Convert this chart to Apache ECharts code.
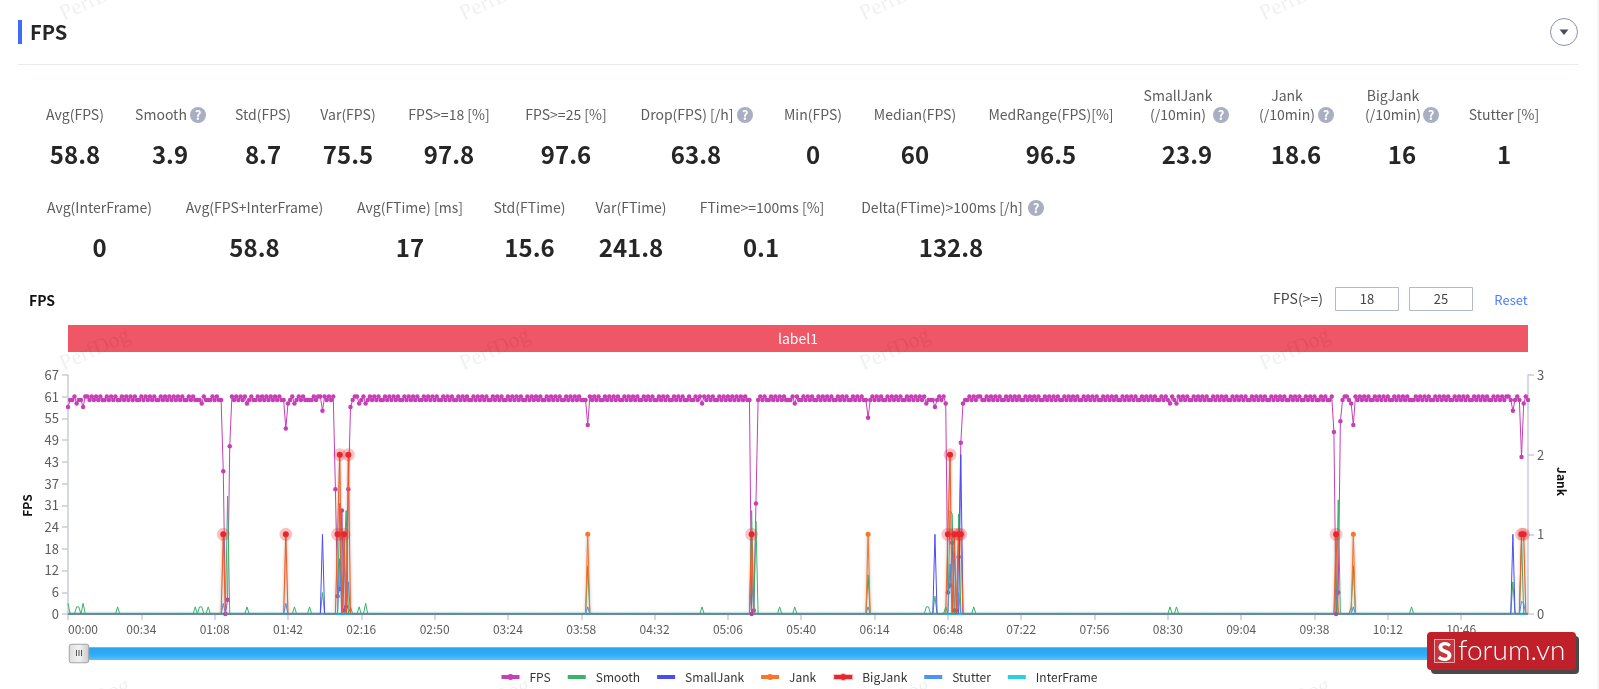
<!DOCTYPE html>
<html>
<head>
<meta charset="utf-8">
<title>FPS</title>
<script src="https://cdn.jsdelivr.net/npm/echarts@6/dist/echarts.min.js"></script>
<style>
  html, body { margin: 0; padding: 0; background: #fff; overflow: hidden; }
  #chart { width: 1599px; height: 689px; }
</style>
</head>
<body>
<div id="chart"></div>
<script>
// -- Chart values --
const fpsValues = [
  58,60,60,61,59,60,60,58,61,61,60,61,60,61,60,61,60,60,61,60,
  61,60,61,60,60,61,60,61,60,61,60,61,60,60,61,60,61,60,61,60,
  61,60,60,61,60,61,60,61,60,61,60,61,60,61,60,60,61,60,61,60,
  60,60,59,61,60,60,60,61,60,61,60,60,40,0,4,47,61,60,61,60,
  61,60,61,59,60,61,60,60,61,60,61,60,61,60,61,60,61,60,61,60,
  60,52,59,60,61,59,60,61,60,61,60,60,60,60,61,60,61,61,57,61,
  60,61,60,61,35,5,7,29,1,2,35,58,60,61,61,59,60,61,59,60,
  61,60,61,60,61,60,60,61,60,61,60,61,60,61,60,60,61,60,61,60,
  61,60,61,60,60,61,60,61,60,61,60,61,60,60,61,60,61,60,61,60,
  60,61,60,61,60,61,60,60,61,60,61,60,61,60,61,60,60,61,60,61,
  60,61,60,60,61,60,61,60,61,60,61,60,60,61,60,61,60,61,60,61,
  60,60,61,60,61,60,61,60,61,60,60,61,60,61,60,61,60,61,60,60,
  60,53,61,60,61,60,61,60,60,61,60,61,60,61,60,61,60,60,61,60,
  61,60,61,60,61,60,60,61,60,61,60,61,60,60,61,60,61,60,61,60,
  60,61,60,61,60,61,60,60,61,60,60,61,60,61,59,61,60,61,60,61,
  60,60,61,60,61,60,61,60,61,60,61,60,61,60,61,60,60,0,1,31,
  60,61,60,61,60,60,61,60,61,60,61,60,61,60,60,60,61,59,61,60,
  60,61,60,61,60,61,60,60,61,60,61,60,61,60,61,60,60,61,60,61,
  60,61,60,60,61,60,61,60,61,60,60,55,60,61,60,61,60,61,60,60,
  61,60,61,60,61,60,61,60,60,61,60,61,60,61,60,61,60,61,59,60,
  60,60,58,60,61,60,61,59,6,8,20,1,1,16,48,59,60,60,61,60,
  61,60,61,61,60,60,61,60,61,60,61,60,61,60,60,61,60,61,60,61,
  60,61,60,60,61,60,61,60,61,60,61,60,60,61,60,61,60,61,60,61,
  60,60,61,60,61,60,61,60,61,60,60,61,60,61,60,61,60,61,60,60,
  61,60,61,60,61,60,61,60,60,61,60,61,60,61,60,61,60,60,61,60,
  61,60,61,60,61,60,60,61,60,61,60,59,61,60,59,61,60,61,60,61,
  60,60,61,60,61,60,61,60,61,60,60,61,60,61,60,61,60,61,60,60,
  61,60,61,60,61,60,61,60,60,61,60,61,60,61,60,61,60,60,61,60,
  61,60,61,60,61,60,60,61,60,61,60,61,60,60,61,60,61,60,61,60,
  60,61,60,61,60,60,61,51,0,6,54,60,61,61,60,59,53,61,60,61,
  60,61,60,61,60,60,61,60,61,60,61,60,61,60,60,61,60,61,60,61,
  60,61,60,60,60,61,60,61,60,61,60,61,60,60,61,60,61,60,61,60,
  61,60,60,61,60,61,60,61,60,61,60,60,61,60,61,60,61,60,61,60,
  60,61,60,61,60,61,60,61,61,60,57,60,61,60,44,59,61,60
];

// The other series are zero except at these [second, value] points
const smoothPoints = [[0,3],[4,2],[5,2],[7,3],[23,2],[59,2],[61,2],[62,2],[65,2],[74,33],[83,2],[105,2],[112,2],[118,6],[126,31],[128,16],[129,29],[131,2],[135,2],[138,3],[241,13.5],[294,2],[317,29],[319,26],[330,2],[337,2],[371,11],[398,2],[399,2],[402,5],[407,2],[409,29],[410,28],[413,28],[420,2],[511,2],[514,2],[589,32],[595,2],[596,13.5],[623,2],[670,9],[674,21]];
const smallJankPoints = [[118,1],[402,1],[414,2],[670,1]];
const jankPoints = [[72,1],[101,1],[125,1],[126,2],[128,1],[130,2],[241,1],[317,1],[371,1],[408,1],[409,2],[411,1],[413,1],[414,1],[588,1],[596,1],[674,1],[675,1]];
const bigJankPoints = [[72,1],[101,1],[125,1],[126,2],[128,1],[130,2],[317,1],[408,1],[409,2],[411,1],[413,1],[414,1],[588,1],[674,1],[675,1]];
const stutterPoints = [[72,3],[101,3],[126,15.5],[128,16],[130,9],[241,2],[317,10.5],[371,2],[409,14],[411,17.5],[413,6],[588,7],[596,2],[674,3.5],[675,3]];
const interFramePoints = [];

const yLeftLabels = [0,6,12,18,24,31,37,43,49,55,61,67];

// Stats block
const statRow1Labels = ['Avg(FPS)','Smooth','Std(FPS)','Var(FPS)','FPS>=18 [%]','FPS>=25 [%]','Drop(FPS) [/h]','Min(FPS)','Median(FPS)','MedRange(FPS)[%]','SmallJank\n(/10min)','Jank\n(/10min)','BigJank\n(/10min)','Stutter [%]'];
const statRow1Values = ['58.8','3.9','8.7','75.5','97.8','97.6','63.8','0','60','96.5','23.9','18.6','16','1'];
const statRow2Labels = ['Avg(InterFrame)','Avg(FPS+InterFrame)','Avg(FTime) [ms]','Std(FTime)','Var(FTime)','FTime>=100ms [%]','Delta(FTime)>100ms [/h]'];
const statRow2Values = ['0','58.8','17','15.6','241.8','0.1','132.8'];

const statRow1LabelX = [75,161,263,348,449,566,687,813,915,1051,1178,1287,1393,1504];
const statRow1ValueX = [75,170,263,348,449,566,696,813,915,1051,1187,1296,1402,1504];
const statRow1IconX = [null,198,null,null,null,null,745,null,null,null,1221,1326,1431,null];
const statRow2LabelX = [99.5,254.5,410,529.5,631,762,942];
const statRow2ValueX = [99.5,254.5,410,529.5,631,761,951];
const statRow2IconX = [null,null,null,null,null,null,1036];

const watermarkX = [95,495,895,1295];
const watermarkY = [0,350,700];

const COLORS = {
  fps: '#c63fb6',
  smooth: '#38b368',
  smallJank: '#4b4cf2',
  jank: '#f9752b',
  bigJank: '#e8262c',
  stutter: '#4b93f7',
  interFrame: '#29d0e2',
  axis: '#c9cdd8',
  text: '#5c5c5c',
  dark: '#262626'
};
const FONT = '"Noto Sans CJK SC", "Noto Sans", sans-serif';
const POINT_COUNT = fpsValues.length;

const times = fpsValues.map((_, i) =>
  String(Math.floor(i / 60)).padStart(2, '0') + ':' + String(i % 60).padStart(2, '0'));

function spread(points) {
  const out = new Array(POINT_COUNT).fill(0);
  points.forEach(p => { out[p[0]] = p[1]; });
  return out;
}

// Jank style series only mark the non zero seconds
function markNonZero(values, hiddenAt) {
  return values.map((v, i) =>
    (v > 0 && !(hiddenAt && hiddenAt[i] > 0) ? v : { value: v, symbol: 'none' }));
}

function text(x, y, str, font, fill, align) {
  return {
    type: 'text', x, y, silent: true, z: 10,
    style: { text: str, font, fill, textAlign: align || 'center', textVerticalAlign: 'middle' }
  };
}

function helpIcon(x, y) {
  return [
    { type: 'circle', silent: true, z: 10, shape: { cx: x, cy: y, r: 8 }, style: { fill: '#a9aec2' } },
    text(x, y, '?', 'bold 13px ' + FONT, '#fff')
  ];
}

function statRow(labels, values, labelX, valueX, iconX, labelY, valueY) {
  const out = [];
  labels.forEach((label, i) => {
    const lines = label.split('\n');
    lines.forEach((line, j) => {
      out.push(text(labelX[i], labelY - (lines.length - 1 - j) * 19, line, '14px ' + FONT, COLORS.text));
    });
    out.push(text(valueX[i], valueY, values[i], 'bold 24px ' + FONT, COLORS.dark));
    if (iconX[i] !== null) out.push(...helpIcon(iconX[i], labelY));
  });
  return out;
}

function inputBox(x, str) {
  return [
    { type: 'rect', silent: true, shape: { x: x + 0.5, y: 287.5, width: 63, height: 23 }, style: { fill: '#fff', stroke: '#b5b8c8', lineWidth: 1 } },
    text(x + 32, 299, str, '13px ' + FONT, '#444')
  ];
}

const watermarks = [];
watermarkY.forEach(y => watermarkX.forEach(x => {
  watermarks.push({
    type: 'text', x, y, rotation: 0.42, silent: true, z: 40, zlevel: 1,
    style: { text: 'PerfDog', font: '22px "Liberation Serif", serif', fill: 'rgba(0,0,0,0.06)', textAlign: 'center', textVerticalAlign: 'middle' }
  });
}));

const pageGraphics = [
  ...watermarks,
  // Section header
  { type: 'rect', silent: true, shape: { x: 18, y: 20, width: 4, height: 24 }, style: { fill: '#3f6bff' } },
  text(30, 32, 'FPS', 'bold 20px ' + FONT, COLORS.dark, 'left'),
  { type: 'rect', silent: true, shape: { x: 18, y: 64, width: 1560, height: 1 }, style: { fill: '#e6e8f2' } },
  { type: 'rect', silent: true, shape: { x: 1597.5, y: 0, width: 1, height: 689 }, style: { fill: '#ececf0' } },
  { type: 'circle', silent: true, shape: { cx: 1564, cy: 32, r: 13.5 }, style: { fill: '#fff', stroke: '#8d91aa', lineWidth: 1 } },
  { type: 'polygon', silent: true, shape: { points: [[1559.5, 29.5], [1568.5, 29.5], [1564, 35]] }, style: { fill: '#4a4d5e' } },
  ...statRow(statRow1Labels, statRow1Values, statRow1LabelX, statRow1ValueX, statRow1IconX, 115, 155),
  ...statRow(statRow2Labels, statRow2Values, statRow2LabelX, statRow2ValueX, statRow2IconX, 208, 248),
  // Chart toolbar
  text(29, 301, 'FPS', 'bold 14px ' + FONT, '#111', 'left'),
  text(1298, 299, 'FPS(>=)', '14px ' + FONT, '#444'),
  ...inputBox(1335, '18'),
  ...inputBox(1409, '25'),
  text(1511, 300, 'Reset', '13px ' + FONT, '#4a7dff'),
  // Label band over the plot
  { type: 'rect', silent: true, shape: { x: 68, y: 325, width: 1460, height: 27 }, style: { fill: '#ef5666' } },
  text(798, 338.5, 'label1', '14px ' + FONT, '#fff'),
  // Grip on the slider handle
  { type: 'rect', silent: true, z: 20, zlevel: 1, shape: { x: 76, y: 650, width: 1, height: 6 }, style: { fill: '#555' } },
  { type: 'rect', silent: true, z: 20, zlevel: 1, shape: { x: 78.5, y: 650, width: 1, height: 6 }, style: { fill: '#555' } },
  { type: 'rect', silent: true, z: 20, zlevel: 1, shape: { x: 81, y: 650, width: 1, height: 6 }, style: { fill: '#555' } },
  // forum badge over the corner
  { type: 'rect', silent: true, z: 30, zlevel: 1, shape: { x: 1431, y: 636, width: 148, height: 38, r: 4 }, style: { fill: '#4a4a4a' } },
  { type: 'rect', silent: true, z: 31, zlevel: 1, shape: { x: 1427, y: 632, width: 149, height: 38, r: 4 }, style: { fill: '#bf2029' } },
  { type: 'rect', silent: true, z: 32, zlevel: 1, shape: { x: 1434.5, y: 639.5, width: 20, height: 23 }, style: { fill: 'rgba(255,255,255,0.1)', stroke: 'rgba(255,255,255,0.6)', lineWidth: 1 } },
  { type: 'text', x: 1444.5, y: 651, silent: true, z: 33, zlevel: 1, style: { text: 'S', font: 'bold 25px ' + FONT, fill: '#fff', textAlign: 'center', textVerticalAlign: 'middle' } },
  { type: 'text', x: 1458, y: 651, silent: true, z: 33, zlevel: 1, style: { text: 'forum.vn', font: '300 28px Lato, ' + FONT, fill: '#fff', textAlign: 'left', textVerticalAlign: 'middle' } }
];

function lineSeries(name, color, values, yAxisIndex, extra) {
  return Object.assign({
    name, type: 'line', data: values, yAxisIndex,
    showSymbol: false, smooth: false, animation: false,
    lineStyle: { width: 1, color }, itemStyle: { color }
  }, extra || {});
}

const chart = echarts.init(document.getElementById('chart'), null, { renderer: 'canvas' });

const dotIcon = 'path://M0 1H18V5H0Z M9 0A3 3 0 1 1 9 6A3 3 0 1 1 9 0Z';
const barIcon = 'path://M0 0L0 0Z M0 1H18V5H0Z M18 6L18 6Z';
const bigJankValues = spread(bigJankPoints);

chart.setOption({
  animation: false,
  textStyle: { fontFamily: FONT },
  graphic: { elements: pageGraphics },
  grid: { left: 68, right: 71, top: 375, bottom: 75, containLabel: false },
  legend: {
    top: 666, left: 'center', itemWidth: 18, itemHeight: 6, itemGap: 17,
    textStyle: { color: '#333', fontSize: 12, padding: [0, 0, 0, 5] },
    data: [
      { name: 'FPS', icon: dotIcon },
      { name: 'Smooth', icon: barIcon },
      { name: 'SmallJank', icon: barIcon },
      { name: 'Jank', icon: dotIcon },
      { name: 'BigJank', icon: dotIcon },
      { name: 'Stutter', icon: barIcon },
      { name: 'InterFrame', icon: barIcon }
    ]
  },
  xAxis: {
    type: 'category', boundaryGap: false, data: times,
    axisLine: { lineStyle: { color: COLORS.axis, width: 1.5 } },
    axisTick: { interval: 33, length: 6, lineStyle: { color: COLORS.axis, width: 1.5 } },
    axisLabel: { interval: 33, alignMinLabel: 'left', color: COLORS.text, fontSize: 12, margin: 9, fontFamily: FONT }
  },
  yAxis: [
    {
      type: 'value', min: 0, max: 67, interval: 67 / 11,
      name: 'FPS', nameLocation: 'middle', nameGap: 34,
      nameTextStyle: { color: '#111', fontSize: 12, fontWeight: 'bold', padding: [0, 22, 0, 0], fontFamily: FONT },
      splitLine: { show: false },
      axisLine: { show: true, lineStyle: { color: COLORS.axis, width: 1.5 } },
      axisTick: { show: true, length: 6, lineStyle: { color: COLORS.axis, width: 1.5 } },
      axisLabel: {
        color: COLORS.text, fontSize: 13, margin: 9, fontFamily: FONT,
        formatter: v => yLeftLabels[Math.round(v / (67 / 11))]
      }
    },
    {
      type: 'value', min: 0, max: 3, interval: 1,
      name: 'Jank', nameLocation: 'middle', nameGap: 27, nameRotate: -90,
      nameTextStyle: { color: '#111', fontSize: 12, fontWeight: 'bold', padding: [0, 26, 0, 0], fontFamily: FONT },
      splitLine: { show: false },
      axisLine: { show: true, lineStyle: { color: COLORS.axis, width: 1.5 } },
      axisTick: { show: true, length: 6, lineStyle: { color: COLORS.axis, width: 1.5 } },
      axisLabel: { color: COLORS.text, fontSize: 13, margin: 9, fontFamily: FONT }
    }
  ],
  dataZoom: [{
    type: 'slider', xAxisIndex: 0, start: 0, end: 100,
    left: 76.5, right: 81, top: 647, height: 13,
    showDetail: false, showDataShadow: false, brushSelect: false,
    moveHandleSize: 0,
    backgroundColor: '#2aa8f5', borderColor: '#7fb4d6',
    fillerColor: new echarts.graphic.LinearGradient(0, 0, 0, 1, [
      { offset: 0, color: '#5cc2f9' }, { offset: 0.4, color: '#2fadf7' }, { offset: 1, color: '#26a4f3' }
    ]),
    handleIcon: 'path://M2 0H18A2 2 0 0 1 20 2V17A2 2 0 0 1 18 19H2A2 2 0 0 1 0 17V2A2 2 0 0 1 2 0Z',
    handleSize: '150%',
    handleStyle: {
      color: new echarts.graphic.LinearGradient(1, 0, 0, 0, [
        { offset: 0, color: '#c9c9c9' }, { offset: 0.5, color: '#f2f2f2' }, { offset: 1, color: '#dcdcdc' }
      ]),
      borderColor: '#a2a2a2', borderWidth: 1
    }
  }],
  series: [
    lineSeries('InterFrame', COLORS.interFrame, spread(interFramePoints), 0, { lineStyle: { width: 2.5, color: COLORS.interFrame }, z: 2 }),
    lineSeries('FPS', COLORS.fps, fpsValues, 0, { showSymbol: true, showAllSymbol: true, symbol: 'circle', symbolSize: 4.5, z: 3 }),
    lineSeries('Smooth', COLORS.smooth, spread(smoothPoints), 0, { z: 4 }),
    lineSeries('SmallJank', COLORS.smallJank, spread(smallJankPoints), 1, { z: 4 }),
    lineSeries('Stutter', COLORS.stutter, spread(stutterPoints), 0, { z: 5 }),
    lineSeries('Jank', COLORS.jank, markNonZero(spread(jankPoints), bigJankValues), 1, {
      showSymbol: true, showAllSymbol: true, symbol: 'circle', symbolSize: 5, z: 5,
      lineStyle: { width: 1, color: COLORS.jank, shadowColor: 'rgba(110,90,70,0.6)', shadowBlur: 3 }
    }),
    lineSeries('BigJank', COLORS.bigJank, markNonZero(bigJankValues), 1, {
      showSymbol: true, showAllSymbol: true, symbol: 'circle', symbolSize: 6, z: 6,
      lineStyle: { width: 1, color: 'rgba(232,38,44,0.3)' },
      itemStyle: { color: COLORS.bigJank, borderColor: 'rgba(232,38,44,0.28)', borderWidth: 7 }
    })
  ]
});

window.addEventListener('resize', () => chart.resize());
</script>
</body>
</html>
